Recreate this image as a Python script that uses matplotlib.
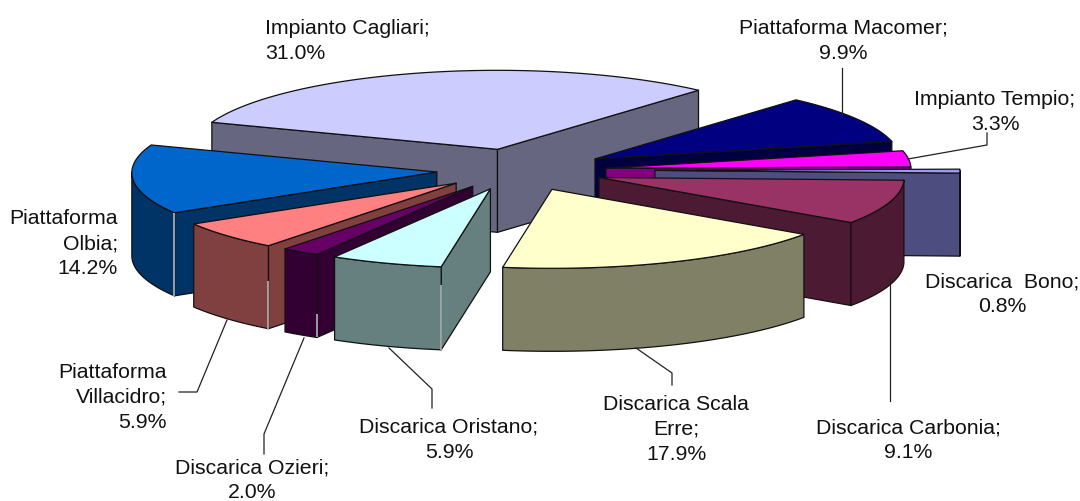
"""
Exploded 3D pie chart of waste shares per site
"""

import numpy as np
import matplotlib
matplotlib.use('Agg')
import matplotlib.pyplot as plt
from matplotlib.patches import Polygon

names = ['Impianto Cagliari', 'Piattaforma Macomer', 'Impianto Tempio', 'Discarica Bono',
         'Discarica Carbonia', 'Discarica Scala Erre', 'Discarica Oristano', 'Discarica Ozieri',
         'Piattaforma Villacidro', 'Piattaforma Olbia']
values = [31.0, 9.9, 3.3, 0.8, 9.1, 17.9, 5.9, 2.0, 5.9, 14.2]
colors = ['#CCCCFF', '#000080', '#FF00FF', '#9999FF', '#993366',
          '#FFFFCC', '#CCFFFF', '#660066', '#FF8080', '#0066CC']
explode = [0.27, 0.30, 0.30, 0.46, 0.30, 0.30, 0.24, 0.25, 0.25, 0.26]
# small pixel corrections on top of the explode
nudge_x = [1.5, 1, 0, 0, -3, 0.5, -1, -1, -3.5, -1]
nudge_y = [0, 1, 1, 0, 0, -2.5, 1, 0, 0, 0]

# painter's order, back slices first
draw_order = [0, 1, 2, 3, 4, 9, 8, 7, 6, 5]
# how far down the front corner line stays dark, the rest is pale
corner_dark = [1, 1, 1, 1, 1, 1, 0.22, 0.72, 0.42, 0]

# label text lines, anchor x, first line y, alignment
labels = [
    (['Impianto Cagliari;', '31.0%'], 265, 28, 'left'),
    (['Piattaforma Macomer;', '9.9%'], 843, 28, 'center'),
    (['Impianto Tempio;', '3.3%'], 995, 99, 'center'),
    (['Discarica  Bono;', '0.8%'], 1002, 282, 'center'),
    (['Discarica Carbonia;', '9.1%'], 908, 428, 'center'),
    (['Discarica Scala', 'Erre;', '17.9%'], 676, 404, 'center'),
    (['Discarica Oristano;', '5.9%'], 449, 427, 'center'),
    (['Discarica Ozieri;', '2.0%'], 252, 468, 'center'),
    (['Piattaforma', 'Villacidro;', '5.9%'], 167, 372, 'right'),
    (['Piattaforma', 'Olbia;', '14.2%'], 118, 219, 'right'),
]
leaders = [
    ([842, 842], [68, 115]),
    ([987, 987, 908], [133, 145, 159]),
    ([890, 890], [278, 401]),
    ([636, 672, 672], [348, 373, 385]),
    ([389, 432, 432], [348, 389, 408]),
    ([304, 264, 264], [338, 434, 454]),
    ([227, 197, 179], [320, 392, 392]),
]

cx, cy = 516, 170
rx, ry = 305, 79
# front of the pie is a little wider than the back
front_gain = 3
depth = 83
start_angle = -70.0
edge = '#111111'


def rim(ax0, ay0, t):
    """Points on the top rim, angle in radians clockwise from the top."""
    return ax0 + (rx - front_gain * np.cos(t)) * np.sin(t), ay0 - ry * np.cos(t)


def face(ax, xs, ys, color):
    ax.add_patch(Polygon(np.column_stack([xs, ys]), closed=True, facecolor=color,
                         edgecolor=edge, linewidth=0.9, joinstyle='round'))


def draw_slice(ax, i, t1, t2):
    mid = (t1 + t2) / 2
    ax0 = cx + explode[i] * 302 * np.sin(mid) + nudge_x[i]
    ay0 = cy - explode[i] * ry * np.cos(mid) + nudge_y[i]
    top = matplotlib.colors.to_rgb(colors[i])
    side = tuple(c * 0.5 for c in top)
    # cut faces that look towards the viewer
    for t, visible in ((t1, np.sin(t1) < 0), (t2, np.sin(t2) > 0)):
        if visible:
            ex, ey = rim(ax0, ay0, t)
            face(ax, [ax0, ex, ex, ax0], [ay0, ey, ey + depth, ay0 + depth], side)
    # outer wall, front half of the rim only
    lo, hi = max(t1, np.pi / 2), min(t2, 3 * np.pi / 2)
    if hi > lo:
        t = np.linspace(lo, hi, 60)
        ex, ey = rim(ax0, ay0, t)
        face(ax, np.r_[ex, ex[::-1]], np.r_[ey, ey[::-1] + depth], side)
    # top
    t = np.linspace(t1, t2, 80)
    ex, ey = rim(ax0, ay0, t)
    face(ax, np.r_[ax0, ex], np.r_[ay0, ey], top)
    # corner line between the cut face and the outer wall
    if corner_dark[i] < 1:
        ex, ey = rim(ax0, ay0, t1)
        split = ey + depth * corner_dark[i]
        ax.plot([ex, ex], [split, ey + depth], color='#B4B4B4', lw=1.2, zorder=3,
                solid_capstyle='butt')


fig = plt.figure(figsize=(10.8, 5.01), dpi=100)
ax = fig.add_axes([0, 0, 1, 1])
ax.set_xlim(0, 1080)
ax.set_ylim(501, 0)
ax.axis('off')

edges = np.radians(start_angle + np.r_[0, np.cumsum(values)] / sum(values) * 360)
for i in draw_order:
    draw_slice(ax, i, edges[i], edges[i + 1])

for xs, ys in leaders:
    ax.plot(xs, ys, color='#222222', lw=0.9, zorder=2.5)

for lines, x, y, ha in labels:
    for n, line in enumerate(lines):
        ax.text(x, y + n * 25, line, ha=ha, va='center', fontsize=15.3,
                family='Liberation Sans', color='#111111')

fig.savefig('out.png', dpi=100)
